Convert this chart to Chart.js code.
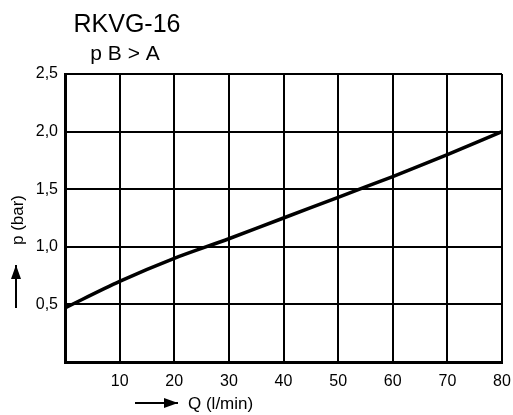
<!DOCTYPE html>
<html>
<head>
<meta charset="utf-8">
<script src="https://cdn.jsdelivr.net/npm/chart.js@4/dist/chart.umd.min.js"></script>
<style>
  html, body { margin: 0; padding: 0; background: #fff; }
  #wrap { width: 513px; height: 415px; }
</style>
</head>
<body>
<div id="wrap"><canvas id="chart"></canvas></div>
<script>
// flow Q (l/min) and pressure p (bar)
const flow = [0, 10, 20, 30, 40, 50, 60, 70, 80]
const pressure = [0.47, 0.70, 0.90, 1.07, 1.25, 1.43, 1.61, 1.80, 2.0]
const xTicks = [10, 20, 30, 40, 50, 60, 70, 80]
const yTicks = [0.5, 1.0, 1.5, 2.0, 2.5]

const font = "'Liberation Sans', Arial, sans-serif"

function arrow(ctx, x1, y1, x2, y2) {
    ctx.beginPath()
    ctx.moveTo(x1, y1)
    ctx.lineTo(x2, y2)
    ctx.lineWidth = 2
    ctx.strokeStyle = '#000'
    ctx.stroke()
    let a = Math.atan2(y2 - y1, x2 - x1)
    ctx.beginPath()
    ctx.moveTo(x2, y2)
    ctx.lineTo(x2 - 14 * Math.cos(a) + 5 * Math.sin(a), y2 - 14 * Math.sin(a) - 5 * Math.cos(a))
    ctx.lineTo(x2 - 14 * Math.cos(a) - 5 * Math.sin(a), y2 - 14 * Math.sin(a) + 5 * Math.cos(a))
    ctx.closePath()
    ctx.fillStyle = '#000'
    ctx.fill()
}

const labels = {
    id: 'labels',
    afterDraw(chart) {
        const ctx = chart.ctx
        ctx.save()
        ctx.fillStyle = '#000'
        ctx.textAlign = 'center'
        ctx.textBaseline = 'alphabetic'
        ctx.font = '25px ' + font
        ctx.fillText('RKVG-16', 127, 32)
        ctx.font = '21px ' + font
        ctx.fillText('p B > A', 125, 60)

        // x axis title with arrow
        ctx.font = '17px ' + font
        ctx.textAlign = 'left'
        ctx.fillText('Q (l/min)', 188, 409)
        arrow(ctx, 135, 403, 178, 403)

        // y axis title with arrow
        ctx.save()
        ctx.translate(23, 220)
        ctx.rotate(-Math.PI / 2)
        ctx.textAlign = 'center'
        ctx.fillText('p (bar)', 0, 0)
        ctx.restore()
        arrow(ctx, 16, 308, 16, 265)
        ctx.restore()
    }
}

new Chart(document.getElementById('chart'), {
    type: 'line',
    data: {
        datasets: [{
            data: flow.map((q, i) => ({x: q, y: pressure[i]})),
            borderColor: '#000',
            borderWidth: 3.5,
            pointRadius: 0,
            tension: 0.3,
            fill: false
        }]
    },
    options: {
        responsive: true,
        maintainAspectRatio: false,
        animation: false,
        layout: { padding: { top: 74, right: 11, left: 0, bottom: 0 } },
        plugins: { legend: { display: false }, tooltip: { enabled: false } },
        scales: {
            x: {
                type: 'linear',
                min: 0, max: 80,
                afterBuildTicks: s => { s.ticks = xTicks.map(v => ({value: v})) },
                afterFit: s => { s.height = 53; s.paddingRight = 0 },
                grid: { color: '#000', lineWidth: 2, drawTicks: true, tickLength: 9, tickColor: 'rgba(0,0,0,0)' },
                border: { color: '#000', width: 3 },
                ticks: { color: '#000', font: { family: font, size: 16 }, padding: 1, maxRotation: 0 }
            },
            y: {
                min: 0, max: 2.5,
                afterBuildTicks: s => { s.ticks = yTicks.map(v => ({value: v})) },
                afterFit: s => { s.width = 65 },
                grid: { color: '#000', lineWidth: 2, drawTicks: false },
                border: { color: '#000', width: 3 },
                ticks: {
                    color: '#000', font: { family: font, size: 16 }, padding: 7,
                    callback: v => v.toFixed(1).replace('.', ',')
                }
            }
        }
    },
    plugins: [labels]
})
</script>
</body>
</html>
